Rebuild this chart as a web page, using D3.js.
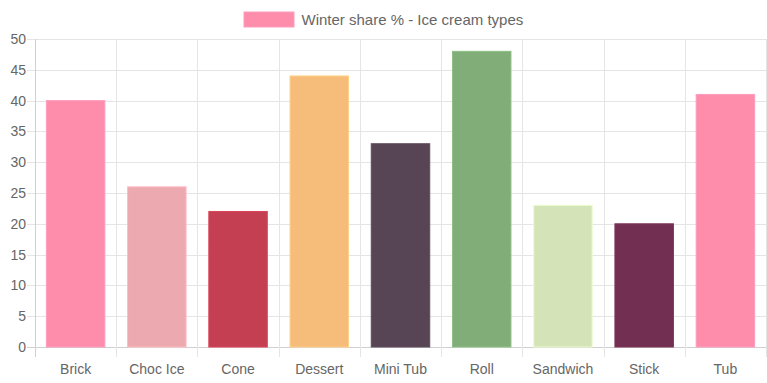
<!DOCTYPE html>
<html><head><meta charset="utf-8">
<script src="https://cdn.jsdelivr.net/npm/d3@7"></script>
<style>body{margin:0;background:#fff}svg{display:block;font-family:"Liberation Sans",Arial,sans-serif}</style>
</head><body><svg id="c" width="767" height="383"></svg>
<script>
const categories = ["Brick","Choc Ice","Cone","Dessert","Mini Tub","Roll","Sandwich","Stick","Tub"];
const values = [40,26,22,44,33,48,23,20,41];
const colors = ["#fd8dab","#eca9b0","#c43f51","#f6bc7a","#574555","#80ad78","#d5e3b9","#722f51","#fd8dab"];
const yTicks = [0,5,10,15,20,25,30,35,40,45,50];
const seriesLabel = "Winter share % - Ice cream types";

const svg = d3.select("#c");
const m = {l:35, r:766, t:39, b:347};
const x = d3.scaleBand().domain(categories).range([m.l, m.r]).paddingInner(0).paddingOuter(0);
const y = d3.scaleLinear().domain([0,50]).range([m.b, m.t]);
const grid = "#e5e5e5", axisC = "#d0d0d0", txt = "#666";

// horizontal grid
svg.append("g").selectAll("line").data(yTicks).join("line")
  .attr("x1", m.l-8).attr("x2", m.r).attr("y1", d=>Math.round(y(d))+0.5).attr("y2", d=>Math.round(y(d))+0.5)
  .attr("stroke", d=> d===0 ? axisC : grid);
// vertical grid at category boundaries
const bounds = categories.map(c=>x(c)).concat([m.r]);
svg.append("g").selectAll("line").data(bounds).join("line")
  .attr("x1", d=>Math.round(d)+0.5).attr("x2", d=>Math.round(d)+0.5)
  .attr("y1", m.t).attr("y2", m.b+10)
  .attr("stroke", (d,i)=> i===0 ? axisC : grid);

// y labels
svg.append("g").selectAll("text").data(yTicks).join("text")
  .attr("x", m.l-9).attr("y", d=>y(d)).attr("dy","0.35em").attr("text-anchor","end")
  .attr("fill", txt).attr("font-size", 14).text(d=>d);

// x labels
svg.append("g").selectAll("text").data(categories).join("text")
  .attr("x", d=>x(d)+x.bandwidth()/2).attr("y", 374).attr("text-anchor","middle")
  .attr("fill", txt).attr("font-size", 14).text(d=>d);

// bars
const bw = x.bandwidth()*0.72;
svg.append("g").selectAll("rect").data(categories).join("rect")
  .attr("x", d=>x(d)+(x.bandwidth()-bw)/2).attr("width", bw)
  .attr("y", (d,i)=>y(values[i])).attr("height", (d,i)=>y(0)-y(values[i]))
  .attr("fill", (d,i)=>colors[i])
  .attr("stroke", (d,i)=>d3.color(colors[i]).brighter(0.3)).attr("stroke-width",1);

// legend
const lg = svg.append("g");
lg.append("rect").attr("x",244).attr("y",12).attr("width",50).attr("height",15).attr("fill",colors[0])
  .attr("stroke", d3.color(colors[0]).brighter(0.3));
lg.append("text").attr("x",301.5).attr("y",24.5).attr("fill",txt).attr("font-size",15).text(seriesLabel);
</script></body></html>
